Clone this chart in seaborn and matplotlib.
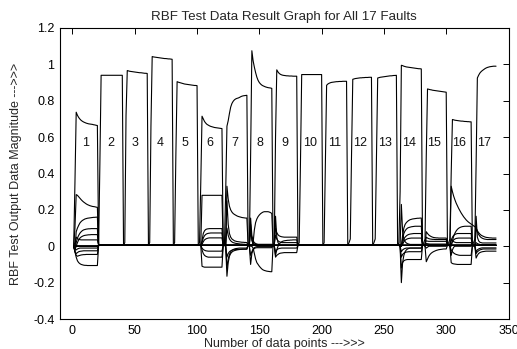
import numpy as np
import pandas as pd
import seaborn as sns
import matplotlib
matplotlib.use("Agg")
import matplotlib.pyplot as plt

# ---- data ----
n_faults = 17
seg_len = 20
points = np.arange(1, n_faults * seg_len + 1)
fault_ids = list(range(1, n_faults + 1))

# the output that belongs to the fault, one list of 20 values per fault
high_output = [
    [0.0, 0.35, 0.737, 0.72, 0.708, 0.699, 0.692, 0.687, 0.683, 0.68, 0.677, 0.675, 0.673, 0.672, 0.671, 0.67, 0.668, 0.667, 0.665, 0.664],
    [0.005, 0.45] + [0.94] * 18,
    [0.005, 0.02, 0.72, 0.966, 0.964, 0.962, 0.961, 0.96, 0.959, 0.958, 0.957, 0.956, 0.955, 0.954, 0.954, 0.953, 0.952, 0.951, 0.951, 0.95],
    [0.005, 0.02, 0.66, 1.043, 1.041, 1.04, 1.039, 1.038, 1.037, 1.036, 1.035, 1.034, 1.033, 1.032, 1.032, 1.031, 1.03, 1.03, 1.029, 1.028],
    [0.005, 0.02, 0.5, 0.905, 0.902, 0.9, 0.898, 0.896, 0.894, 0.892, 0.891, 0.89, 0.889, 0.888, 0.887, 0.886, 0.885, 0.884, 0.884, 0.883],
    [0.005, 0.02, 0.35, 0.715, 0.70, 0.686, 0.677, 0.67, 0.666, 0.662, 0.659, 0.657, 0.655, 0.653, 0.652, 0.651, 0.65, 0.649, 0.648, 0.647],
    [0.005, 0.01, 0.3, 0.66, 0.69, 0.73, 0.765, 0.785, 0.797, 0.805, 0.81, 0.813, 0.815, 0.818, 0.822, 0.825, 0.827, 0.828, 0.829, 0.83],
    [0.005, 0.01, 0.5, 1.075, 1.02, 0.985, 0.955, 0.93, 0.912, 0.9, 0.892, 0.886, 0.882, 0.879, 0.876, 0.874, 0.872, 0.871, 0.87, 0.868],
    [0.005, 0.02, 0.6, 0.97, 0.958, 0.95, 0.945, 0.942, 0.94, 0.939, 0.938, 0.937, 0.937, 0.936, 0.936, 0.936, 0.935, 0.935, 0.935, 0.935],
    [0.005, 0.02, 0.45] + [0.944] * 17,
    [0.005, 0.02, 0.45, 0.885, 0.892, 0.896, 0.899, 0.901, 0.902, 0.903, 0.904, 0.905, 0.905, 0.906, 0.906, 0.906, 0.907, 0.907, 0.907, 0.907],
    [0.005, 0.02, 0.04, 0.5, 0.918, 0.92, 0.922, 0.923, 0.924, 0.925, 0.926, 0.926, 0.927, 0.927, 0.928, 0.928, 0.928, 0.929, 0.929, 0.929],
    [0.005, 0.02, 0.04, 0.5, 0.925, 0.927, 0.929, 0.93, 0.931, 0.932, 0.933, 0.934, 0.935, 0.936, 0.937, 0.937, 0.938, 0.939, 0.939, 0.94],
    [0.005, 0.02, 0.3, 0.995, 0.993, 0.99, 0.988, 0.986, 0.985, 0.984, 0.983, 0.982, 0.981, 0.98, 0.979, 0.978, 0.977, 0.976, 0.976, 0.975],
    [0.005, 0.02, 0.04, 0.5, 0.865, 0.863, 0.861, 0.86, 0.858, 0.857, 0.856, 0.855, 0.854, 0.853, 0.852, 0.851, 0.85, 0.849, 0.848, 0.847],
    [0.005, 0.02, 0.04, 0.4, 0.697, 0.695, 0.693, 0.692, 0.691, 0.69, 0.689, 0.688, 0.688, 0.687, 0.686, 0.686, 0.685, 0.685, 0.684, 0.684],
    [0.005, 0.02, 0.04, 0.45, 0.925, 0.94, 0.952, 0.96, 0.966, 0.971, 0.976, 0.98, 0.983, 0.985, 0.987, 0.988, 0.989, 0.99, 0.99, 0.99],
]

# level of the other outputs in each fault segment when nothing happens
base_level = [0.0] + [0.005] * 16

# transients of the other outputs: fault -> {output: 20 values}
low_output = {
    1: {
        2: [0.0, 0.1, 0.284, 0.28, 0.272, 0.264, 0.256, 0.249, 0.243, 0.238, 0.233, 0.229, 0.226, 0.223, 0.221, 0.219, 0.218, 0.217, 0.215, 0.214],
        3: [0.0, -0.02, 0.08, 0.1, 0.115, 0.128, 0.136, 0.142, 0.146, 0.15, 0.152, 0.154, 0.155, 0.156, 0.157, 0.158, 0.159, 0.159, 0.16, 0.16],
        4: [0.0, -0.02, 0.02, 0.045, 0.06, 0.072, 0.08, 0.086, 0.09, 0.092, 0.094, 0.095, 0.096, 0.096, 0.097, 0.097, 0.097, 0.097, 0.097, 0.097],
        5: [0.0, -0.02, 0.0, 0.02, 0.035, 0.045, 0.051, 0.055, 0.058, 0.06, 0.061, 0.062, 0.063, 0.063, 0.064, 0.064, 0.064, 0.064, 0.064, 0.064],
        6: [0.0, -0.03, -0.06, -0.08, -0.09, -0.096, -0.1, -0.102, -0.104, -0.105, -0.105] + [-0.106] * 9,
        7: [0.0, -0.03, -0.05, -0.055, -0.052, -0.05, -0.048, -0.047, -0.046, -0.046] + [-0.045] * 10,
        8: [0.0, -0.03, -0.04, -0.035, -0.03, -0.028, -0.027, -0.026] + [-0.025] * 12,
        9: [0.0, -0.02, -0.02, -0.015, -0.012] + [-0.01] * 15,
        10: [0.0, 0.02, 0.05, 0.042, 0.038, 0.036] + [0.035] * 14,
    },
    6: {
        1: [0.005, 0.005, 0.005] + [0.28] * 17,
        2: [0.005, 0.005, 0.005, -0.11, -0.113] + [-0.115] * 15,
        3: [0.005, 0.005, 0.005, 0.03, 0.07, 0.085, 0.092, 0.095, 0.096] + [0.097] * 11,
        4: [0.005, 0.005, 0.005, 0.02, 0.045, 0.058, 0.065, 0.069, 0.071, 0.072] + [0.073] * 10,
        5: [0.005, 0.005, 0.005, 0.01, 0.025, 0.035, 0.04, 0.043, 0.045] + [0.046] * 11,
        7: [0.005, 0.005, 0.005, -0.01, -0.018, -0.022, -0.025, -0.026] + [-0.027] * 12,
        8: [0.005, 0.005, 0.005, -0.02, -0.04, -0.05, -0.055, -0.058] + [-0.06] * 12,
    },
    7: {
        1: [0.005, 0.005, 0.01, 0.33, 0.26, 0.22, 0.2, 0.188, 0.18, 0.175, 0.171, 0.167, 0.164, 0.162, 0.16, 0.158, 0.157, 0.156, 0.155, 0.155],
        2: [0.005, 0.005, 0.01, 0.25, 0.12, 0.07, 0.05, 0.04, 0.035, 0.03, 0.028, 0.026, 0.025, 0.024, 0.023, 0.022, 0.022, 0.021, 0.021, 0.02],
        3: [0.005, 0.005, 0.0, -0.165, -0.09, -0.055, -0.04, -0.032, -0.027, -0.024, -0.022, -0.02, -0.019, -0.018, -0.017, -0.017, -0.016, -0.016, -0.016, -0.015],
        4: [0.005, 0.005, 0.0, -0.12, -0.07, -0.045, -0.03, -0.022, -0.018, -0.015, -0.013, -0.012, -0.011] + [-0.01] * 7,
        5: [0.005, 0.005, 0.01, 0.1, 0.06, 0.04, 0.03, 0.024, 0.02, 0.018, 0.016, 0.015, 0.014, 0.013, 0.012, 0.012, 0.011, 0.011, 0.01, 0.01],
        8: [0.005, 0.005, 0.0, -0.06, -0.04, -0.03, -0.025, -0.022, -0.02, -0.019, -0.018, -0.018, -0.017, -0.017, -0.017, -0.016, -0.016, -0.016, -0.016, -0.016],
    },
    8: {
        1: [0.005, 0.01, 0.155, 0.06, 0.03, 0.02, 0.015, 0.012] + [0.01] * 12,
        2: [0.005, 0.0, -0.1, -0.04, -0.02, -0.012, -0.009] + [-0.008] * 13,
        3: [0.005, 0.005, 0.01, 0.005, 0.02, 0.09, 0.13, 0.15, 0.163, 0.172, 0.179, 0.184, 0.188, 0.19, 0.19, 0.19, 0.19, 0.188, 0.185, 0.18],
        4: [0.005, 0.005, 0.0, 0.0, -0.01, -0.04, -0.07, -0.09, -0.1, -0.11, -0.118, -0.125, -0.13, -0.133, -0.135, -0.137, -0.138, -0.139, -0.14, -0.14],
        5: [0.005, 0.01, 0.08, 0.04, 0.02, 0.012, 0.008, 0.006] + [0.005] * 12,
        6: [0.005, 0.0, -0.05, -0.03, -0.015, -0.008, -0.004] + [-0.002] * 13,
        7: [0.005, 0.01, 0.12, 0.03, 0.015] + [0.01] * 15,
    },
    9: {
        1: [0.005, 0.01, 0.1, 0.075, 0.063, 0.057, 0.054, 0.052, 0.051] + [0.05] * 11,
        2: [0.005, 0.0, -0.05, -0.02, 0.0, 0.012, 0.02, 0.025, 0.028, 0.03, 0.031, 0.032, 0.033, 0.033, 0.034, 0.034, 0.035, 0.035, 0.035, 0.035],
        3: [0.005, 0.01, 0.06, 0.04, 0.03, 0.025, 0.022] + [0.02] * 13,
        4: [0.005, 0.0, -0.03, -0.02, -0.015, -0.012, -0.011] + [-0.01] * 13,
        5: [0.005, 0.0, -0.06, -0.05, -0.045, -0.04, -0.038, -0.037, -0.036] + [-0.035] * 11,
        6: [0.005, 0.01, 0.165, 0.05, 0.02, 0.01] + [0.005] * 14,
    },
    14: {
        1: [0.005, 0.005, 0.01, 0.23, 0.08, 0.04, 0.025, 0.018, 0.014, 0.012] + [0.01] * 10,
        2: [0.005, 0.005, 0.0, -0.2, -0.09, -0.05, -0.03, -0.02, -0.015, -0.012] + [-0.01] * 10,
        3: [0.005, 0.005, 0.01, 0.0, 0.06, 0.1, 0.12, 0.13, 0.137, 0.142, 0.146, 0.148, 0.15, 0.151, 0.152, 0.153, 0.154, 0.154, 0.155, 0.155],
        4: [0.005, 0.005, 0.01, 0.0, 0.04, 0.07, 0.085, 0.094, 0.1, 0.103, 0.105, 0.107, 0.108, 0.109] + [0.11] * 6,
        5: [0.005, 0.005, 0.01, 0.0, 0.02, 0.04, 0.05, 0.057, 0.062, 0.065, 0.067, 0.068, 0.069] + [0.07] * 7,
        6: [0.005, 0.005, 0.01, 0.0, 0.01, 0.025, 0.033, 0.038, 0.041, 0.043, 0.044] + [0.045] * 9,
        7: [0.005, 0.005, 0.0, -0.12, -0.09, -0.08, -0.076, -0.074] + [-0.073] * 12,
        8: [0.005, 0.005, 0.0, -0.06, -0.045, -0.038, -0.034, -0.032, -0.031] + [-0.03] * 11,
        9: [0.005, 0.005, 0.0, -0.03, -0.02, -0.015, -0.012] + [-0.01] * 13,
    },
    15: {
        1: [0.005, 0.005, 0.01, 0.08, 0.07, 0.062, 0.057, 0.053, 0.05, 0.048, 0.047, 0.046, 0.046] + [0.045] * 7,
        2: [0.005, 0.005, 0.01, 0.05, 0.045, 0.042, 0.04, 0.039, 0.038, 0.038] + [0.037] * 10,
        3: [0.005, 0.005, 0.01, 0.03, 0.028] + [0.027] * 15,
        4: [0.005, 0.005, 0.0, -0.085, -0.07, -0.055, -0.045, -0.038, -0.033, -0.029, -0.026, -0.023, -0.021, -0.019, -0.018, -0.017, -0.016, -0.015, -0.015, -0.015],
        5: [0.005, 0.005, 0.01, 0.015, 0.014, 0.013] + [0.012] * 14,
        6: [0.005, 0.005, 0.0, -0.01, -0.005] + [0.0] * 15,
    },
    16: {
        1: [0.005, 0.005, 0.01, 0.33, 0.3, 0.275, 0.255, 0.237, 0.222, 0.208, 0.195, 0.183, 0.172, 0.162, 0.153, 0.145, 0.138, 0.132, 0.127, 0.122],
        2: [0.005, 0.005, 0.0, -0.09, -0.095, -0.097, -0.098, -0.099] + [-0.1] * 12,
        3: [0.005, 0.005, 0.005, 0.0, 0.03, 0.055, 0.072, 0.084, 0.093, 0.099, 0.103, 0.106, 0.108, 0.109] + [0.11] * 6,
        4: [0.005, 0.005, 0.005, 0.03, 0.05, 0.06, 0.065, 0.068] + [0.07] * 12,
        5: [0.005, 0.005, 0.005, 0.01, 0.025, 0.035, 0.04, 0.043, 0.044] + [0.045] * 11,
        6: [0.005, 0.005, 0.0, -0.02, -0.03, -0.037, -0.042, -0.045, -0.047, -0.049] + [-0.05] * 10,
        7: [0.005, 0.005, 0.0, -0.05, -0.02, -0.005] + [0.0] * 14,
        8: [0.005, 0.005, 0.01, 0.04, 0.03, 0.025, 0.022] + [0.02] * 13,
    },
    17: {
        1: [0.118, 0.112, 0.108, 0.1, 0.085, 0.075, 0.067, 0.061, 0.057, 0.054, 0.051, 0.049, 0.048, 0.047, 0.046, 0.046] + [0.045] * 4,
        2: [0.0, 0.0, 0.0, -0.065, -0.05, -0.04, -0.035, -0.032, -0.03, -0.029, -0.028] + [-0.027] * 9,
        3: [0.005, 0.005, 0.005, 0.1, 0.08, 0.065, 0.055, 0.048, 0.044, 0.041, 0.039, 0.038] + [0.037] * 8,
        4: [0.005, 0.005, 0.005, 0.165, 0.05, 0.03, 0.022, 0.02] + [0.018] * 12,
        5: [0.005, 0.005, 0.005, 0.02, 0.015, 0.012, 0.01] + [0.009] * 13,
        6: [0.005, 0.005, 0.005, -0.03, -0.02, -0.015, -0.012, -0.01] + [-0.009] * 12,
        7: [0.005, 0.005, 0.0, -0.04, -0.03, -0.025, -0.02, -0.018, -0.016] + [-0.015] * 11,
    },
}

title = "RBF Test Data Result Graph for All 17 Faults"
x_label = "Number of data points --->>>"
y_label = "RBF Test Output Data Magnitude --->>>"

# ---- build one series per network output ----
rows = []
for out in fault_ids:
    vals = []
    for f in fault_ids:
        if out == f:
            seg = high_output[f - 1]
        elif out in low_output.get(f, {}):
            seg = low_output[f][out]
        else:
            seg = [base_level[f - 1]] * seg_len
        assert len(seg) == seg_len, (out, f, len(seg))
        vals += seg
    for p, v in zip(points, vals):
        rows.append((out, p, v))
df = pd.DataFrame(rows, columns=["output", "point", "value"])

# ---- plot ----
sns.set_style("white")
plt.rcParams["font.family"] = ["Liberation Sans", "DejaVu Sans"]
fs = 9

fig = plt.figure(figsize=(5.17, 3.49), dpi=100)
ax = fig.add_axes([60 / 517, 1 - 319 / 349, 448.5 / 517, 291 / 349])

sns.lineplot(data=df, x="point", y="value", units="output", estimator=None,
             color="black", linewidth=0.8, legend=False, sort=False, ax=ax)

for f in fault_ids:
    ax.text((f - 1) * seg_len + 10.5, 0.565, str(f), ha="center", va="center",
            fontsize=fs, color="#111111")

ax.set_xlim(-10, 350)
ax.set_ylim(-0.4, 1.2)
ax.set_xticks(np.arange(0, 351, 50))
ax.set_yticks(np.arange(-0.4, 1.21, 0.2))
ax.set_yticklabels(["-0.4", "-0.2", "0", "0.2", "0.4", "0.6", "0.8", "1", "1.2"])
ax.tick_params(direction="in", top=True, right=True, length=4, width=0.7,
               labelsize=fs, pad=4, colors="black")
for s in ax.spines.values():
    s.set_visible(True)
    s.set_color("black")
    s.set_linewidth(0.8)

ax.set_title(title, fontsize=9.6, pad=6)
ax.set_xlabel(x_label, fontsize=fs, labelpad=1)
ax.set_ylabel(y_label, fontsize=fs, labelpad=8)

fig.savefig("out.png", dpi=100)
